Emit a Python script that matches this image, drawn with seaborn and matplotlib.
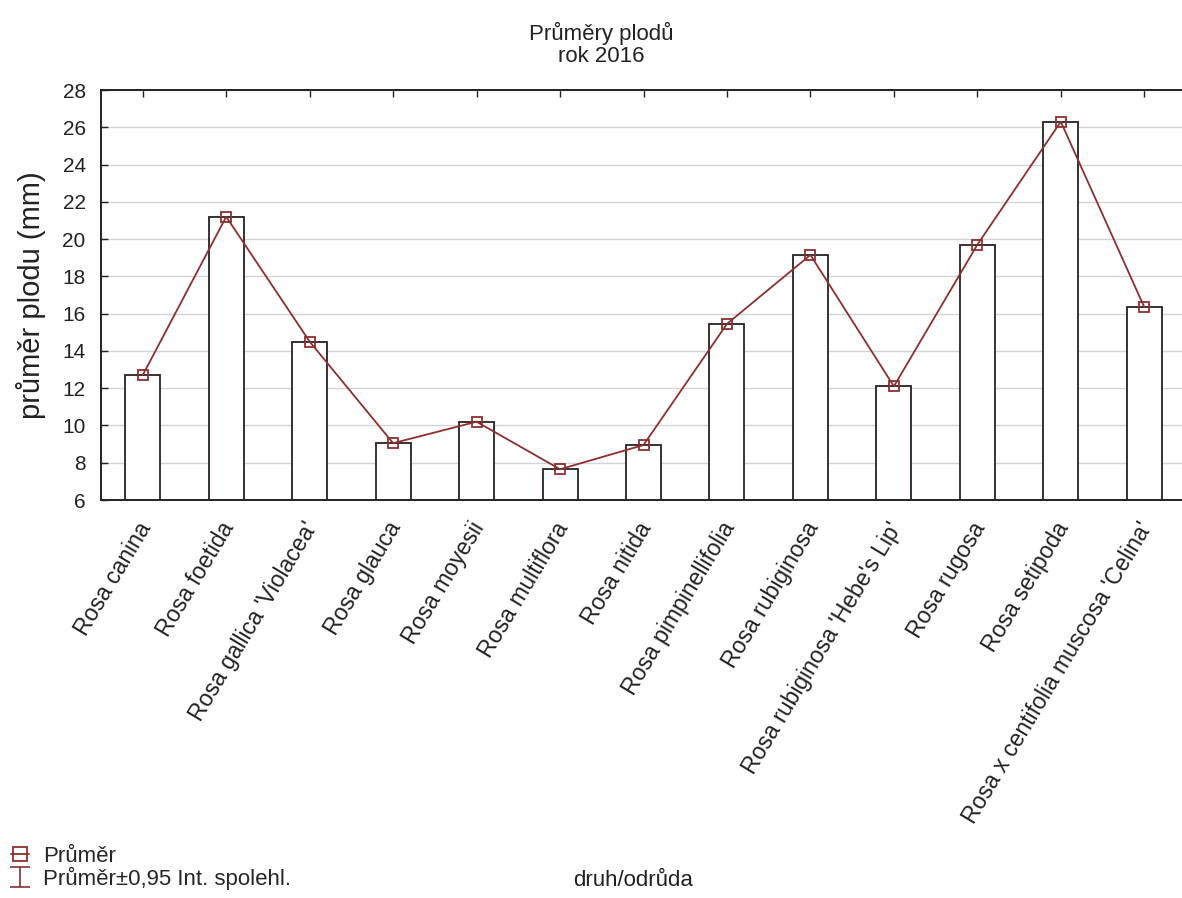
import matplotlib
matplotlib.use("Agg")
import matplotlib.pyplot as plt
from matplotlib.lines import Line2D
from matplotlib.path import Path
from matplotlib.transforms import ScaledTranslation
import seaborn as sns
import pandas as pd

# Fruit diameters by species / cultivar (mean values, mm)
species = [
    "Rosa canina", "Rosa foetida", "Rosa gallica 'Violacea'", "Rosa glauca",
    "Rosa moyesii", "Rosa multiflora", "Rosa nitida", "Rosa pimpinellifolia",
    "Rosa rubiginosa", "Rosa rubiginosa 'Hebe's Lip'", "Rosa rugosa",
    "Rosa setipoda", "Rosa x centifolia muscosa 'Celina'",
]
mean_diameter = [12.7, 21.2, 14.5, 9.05, 10.2, 7.65, 8.95, 15.45, 19.15, 12.1, 19.7, 26.3, 16.35]
y_ticks = [6, 8, 10, 12, 14, 16, 18, 20, 22, 24, 26, 28]

df = pd.DataFrame({"druh": species, "prumer": mean_diameter})

sns.set_style("white")
plt.rcParams["font.family"] = ["Liberation Sans", "DejaVu Sans"]

line_color = "#8c2f2f"
edge_color = "#2a2020"
text_color = "#222222"

fig = plt.figure(figsize=(11.82, 8.98), dpi=100)
ax = fig.add_axes([101 / 1182, 398 / 898, 1085 / 1182, 410 / 898])

sns.barplot(data=df, x="druh", y="prumer", order=species, width=0.42,
            color="white", edgecolor=edge_color, linewidth=1.3,
            errorbar=None, ax=ax, zorder=2)
sns.pointplot(data=df, x="druh", y="prumer", order=species, color=line_color,
              markers="s", linestyles="-", errorbar=None, ax=ax,
              markersize=7, markerfacecolor="none", markeredgewidth=1.3,
              linewidth=1.3, zorder=3)

ax.set_xlim(-0.5, len(species) - 0.5)
ax.set_ylim(6, 28)
ax.set_yticks(y_ticks)
ax.yaxis.grid(True, color="#d4d4d4", linewidth=1.0, zorder=0)
ax.set_axisbelow(True)

for side in ["left", "bottom", "top"]:
    ax.spines[side].set_visible(True)
    ax.spines[side].set_color(text_color)
    ax.spines[side].set_linewidth(1.4)
ax.spines["right"].set_visible(False)

ax.tick_params(axis="y", direction="in", length=5, width=1, left=True,
               labelsize=15, pad=11, colors=text_color)
ax.tick_params(axis="x", direction="in", length=5, width=1, bottom=True,
               top=True, labelsize=16.6, pad=13, colors=text_color)
ax.set_xticks(range(len(species)))
ax.set_xticklabels(species, rotation=59, ha="right", va="center",
                   rotation_mode="anchor")
# nudge the slanted category labels so their ends sit under the ticks
nudge = ScaledTranslation(0.03, -0.06, fig.dpi_scale_trans)
for lbl in ax.get_xticklabels():
    lbl.set_transform(lbl.get_transform() + nudge)

ax.set_xlabel("")
ax.set_ylabel("průměr plodu (mm)", fontsize=21, color=text_color)
ax.yaxis.set_label_coords(-0.051, 0.5)

fig.text(0.509, 0.963, "Průměry plodů", ha="center", va="center",
         fontsize=16, color=text_color)
fig.text(0.509, 0.937, "rok 2016", ha="center", va="center",
         fontsize=16, color=text_color)
fig.text(0.536, 0.020, "druh/odrůda", ha="center", va="center",
         fontsize=16, color=text_color)

# Legend: mean marker and confidence interval glyph
ci_glyph = Path([(-1, 1), (1, 1), (0, 1), (0, -1), (-1, -1), (1, -1)],
                [Path.MOVETO, Path.LINETO, Path.MOVETO, Path.LINETO,
                 Path.MOVETO, Path.LINETO])
handles = [
    Line2D([], [], color=line_color, marker="s", markersize=10,
           markerfacecolor="none", markeredgewidth=1.3, linewidth=1.3),
    Line2D([], [], color=line_color, marker=ci_glyph, markersize=15,
           linestyle="none", markeredgewidth=1.2),
]
fig.legend(handles, ["Průměr", "Průměr±0,95 Int. spolehl."], loc="lower left",
           bbox_to_anchor=(-0.002, -0.006), frameon=False, fontsize=16,
           handlelength=0.8, handletextpad=0.65, labelspacing=0.0,
           borderaxespad=0.2)

fig.savefig("out.png", dpi=100)
